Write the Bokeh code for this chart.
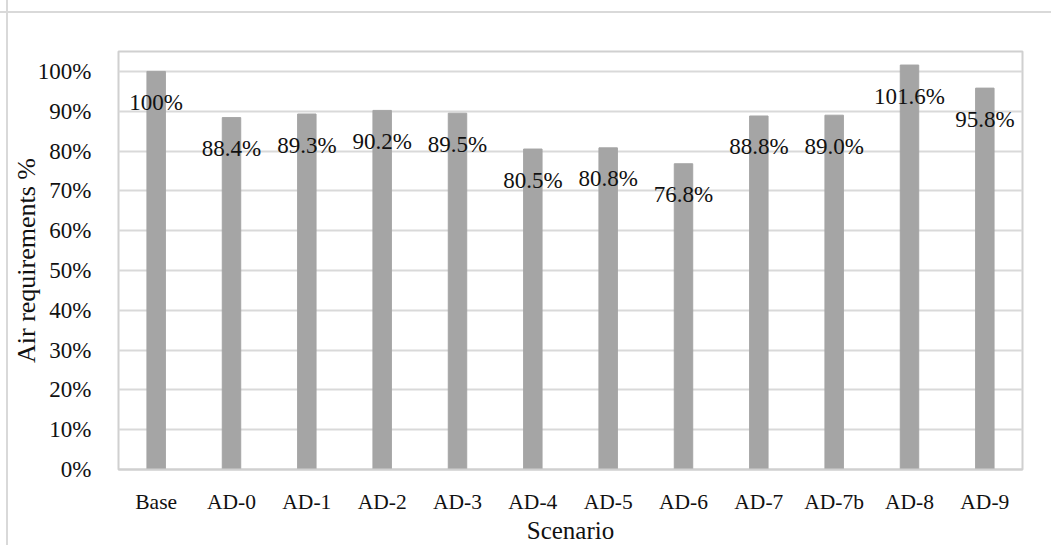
from bokeh.plotting import figure
from bokeh.models import ColumnDataSource, NumeralTickFormatter, FixedTicker, Range1d
from bokeh.core.properties import value
from bokeh.embed import file_html
from bokeh.resources import INLINE

scenarios = ["Base", "AD-0", "AD-1", "AD-2", "AD-3", "AD-4", "AD-5", "AD-6", "AD-7", "AD-7b", "AD-8", "AD-9"]
air_req = [1.000, 0.884, 0.893, 0.902, 0.895, 0.805, 0.808, 0.768, 0.888, 0.890, 1.016, 0.958]
labels = ["100%", "88.4%", "89.3%", "90.2%", "89.5%", "80.5%", "80.8%", "76.8%", "88.8%", "89.0%", "101.6%", "95.8%"]
y_ticks = [0.0, 0.1, 0.2, 0.3, 0.4, 0.5, 0.6, 0.7, 0.8, 0.9, 1.0]

FONT = "Liberation Serif"
TXT = "#111111"

src = ColumnDataSource(dict(x=scenarios, y=air_req, lab=labels))

p = figure(x_range=scenarios, y_range=Range1d(0, 1.05), width=1051, height=546,
           output_backend="svg", toolbar_location=None,
           min_border_left=118, min_border_top=51, min_border_right=29, min_border_bottom=73)
p.border_fill_color = None
p.background_fill_color = "white"
p.styles = {"background": "linear-gradient(#d9d9d9,#d9d9d9) 0px 11px / 100% 2px no-repeat, "
                          "linear-gradient(#d9d9d9,#d9d9d9) 6px 0px / 2px 100% no-repeat, white"}
p.x_range.range_padding = 0

p.vbar(x="x", top="y", width=0.245, source=src, color="#a5a5a5")
p.text(x="x", y="y", text="lab", source=src, y_offset=31, text_align="center",
       text_baseline="middle", text_font=value(FONT), text_font_size="23px", text_color=TXT)

p.outline_line_color = "#d0d0d0"
p.outline_line_width = 2
p.xgrid.grid_line_color = None
p.ygrid.grid_line_color = "#d9d9d9"
p.ygrid.grid_line_width = 2
p.ygrid.ticker = FixedTicker(ticks=y_ticks)

p.yaxis.ticker = FixedTicker(ticks=y_ticks)
p.yaxis.formatter = NumeralTickFormatter(format="0%")
p.yaxis.axis_line_color = None
p.yaxis.major_tick_line_color = None
p.yaxis.minor_tick_line_color = None
p.yaxis.major_label_standoff = 21
p.yaxis.axis_label = "Air requirements %"
p.yaxis.axis_label_standoff = -6

p.xaxis.axis_line_color = "#d0d0d0"
p.xaxis.axis_line_width = 2
p.xaxis.major_tick_line_color = None
p.xaxis.major_label_standoff = 14
p.xaxis.axis_label = "Scenario"
p.xaxis.axis_label_standoff = 0

for ax in (p.xaxis, p.yaxis):
    ax.major_label_text_font = FONT
    ax.major_label_text_font_size = "23px"
    ax.major_label_text_color = TXT
    ax.axis_label_text_font = FONT
    ax.axis_label_text_font_size = "26px"
    ax.axis_label_text_font_style = "normal"
    ax.axis_label_text_color = TXT
p.xaxis.major_label_text_font_size = "21.5px"
p.xaxis.axis_label_text_font_size = "25px"

open("out.html", "w").write(file_html(p, INLINE))
